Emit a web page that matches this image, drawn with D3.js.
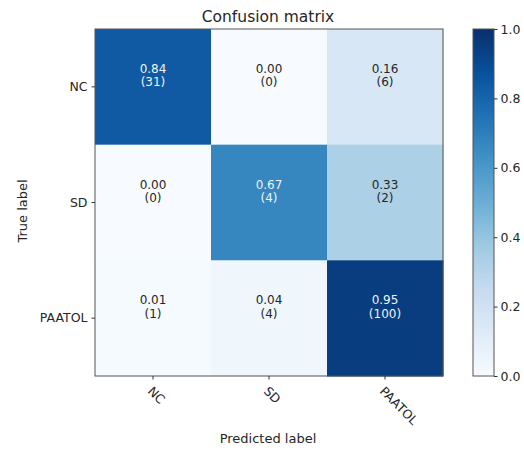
<!DOCTYPE html>
<html><head><meta charset="utf-8">
<script src="https://cdn.jsdelivr.net/npm/d3@7"></script>
<style>body{margin:0;background:#fff}svg{display:block}text{font-family:"DejaVu Sans",sans-serif;fill:#262626}</style>
</head><body>
<script>
const classes = ["NC", "SD", "PAATOL"];
const normValues = [
  [0.84, 0.00, 0.16],
  [0.00, 0.67, 0.33],
  [0.01, 0.04, 0.95]
];
const counts = [
  [31, 0, 6],
  [0, 4, 2],
  [1, 4, 100]
];
const colorbarTicks = [0.0, 0.2, 0.4, 0.6, 0.8, 1.0];
const title = "Confusion matrix";
const xTitle = "Predicted label";
const yTitle = "True label";

const W = 524, H = 450;
const plot = {left: 95, top: 29, right: 443, bottom: 376};
const svg = d3.select("body").append("svg").attr("width", W).attr("height", H);

const bluesStops = ["#f7fbff","#deebf7","#c6dbef","#9ecae1","#6baed6","#4292c6","#2171b5","#08519c","#08306b"];
const color = d3.scaleLinear()
  .domain(d3.range(9).map(i => i / 8))
  .range(bluesStops).interpolate(d3.interpolateRgb).clamp(true);

const x = d3.scaleBand().domain(classes).range([plot.left, plot.right]);
const y = d3.scaleBand().domain(classes).range([plot.top, plot.bottom]);

const cells = [];
classes.forEach((t, i) => classes.forEach((p, j) => cells.push({t, p, v: normValues[i][j], c: counts[i][j]})));

svg.append("g").selectAll("rect").data(cells).join("rect")
  .attr("x", d => x(d.p)).attr("y", d => y(d.t))
  .attr("width", x.bandwidth() + 0.5).attr("height", y.bandwidth() + 0.5)
  .attr("fill", d => color(d.v));

const thresh = d3.max(cells, d => d.v) / 2;
const lab = svg.append("g").selectAll("text").data(cells).join("text")
  .attr("text-anchor", "middle")
  .style("font-size", "12px")
  .style("fill", d => d.v > thresh ? "#eef3f8" : "#262626");
lab.append("tspan").attr("x", d => x(d.p) + x.bandwidth() / 2)
  .attr("y", d => y(d.t) + y.bandwidth() / 2 - 14).text(d => d.v.toFixed(2));
lab.append("tspan").attr("x", d => x(d.p) + x.bandwidth() / 2)
  .attr("y", d => y(d.t) + y.bandwidth() / 2 - 0.5).text(d => "(" + d.c + ")");

// frame
svg.append("rect").attr("x", plot.left).attr("y", plot.top)
  .attr("width", plot.right - plot.left).attr("height", plot.bottom - plot.top)
  .attr("fill", "none").attr("stroke", "#555").attr("stroke-width", 1);

// axes
const yAxis = d3.axisLeft(y).tickSize(3.5).tickPadding(4);
const gy = svg.append("g").attr("transform", `translate(${plot.left},0)`).call(yAxis);
gy.select(".domain").remove();
gy.selectAll("text").style("font-size", "12.5px").attr("fill", "#262626");
gy.selectAll("line").attr("stroke", "#333");

const xAxis = d3.axisBottom(x).tickSize(3.5).tickPadding(4);
const gx = svg.append("g").attr("transform", `translate(0,${plot.bottom})`).call(xAxis);
gx.select(".domain").remove();
gx.selectAll("line").attr("stroke", "#333");
gx.selectAll("text").style("font-size", "12.5px").attr("fill", "#262626")
  .attr("text-anchor", "start").attr("dy", null).attr("y", 0)
  .attr("transform", "translate(-6,16) rotate(45)");

svg.append("text").attr("x", (plot.left + plot.right) / 2 - 1).attr("y", 22)
  .attr("text-anchor", "middle").style("font-size", "15.5px").text(title);
svg.append("text").attr("x", (plot.left + plot.right) / 2 - 1).attr("y", 443)
  .attr("text-anchor", "middle").style("font-size", "13px").text(xTitle);
svg.append("text").attr("transform", "translate(27,211) rotate(-90)")
  .attr("text-anchor", "middle").style("font-size", "13px").text(yTitle);

// colorbar
const cb = {left: 473, right: 494, top: 29, bottom: 376};
const defs = svg.append("defs");
const grad = defs.append("linearGradient").attr("id", "cbgrad")
  .attr("x1", 0).attr("y1", 1).attr("x2", 0).attr("y2", 0);
bluesStops.forEach((c, i) => grad.append("stop").attr("offset", i / 8).attr("stop-color", c));
svg.append("rect").attr("x", cb.left).attr("y", cb.top)
  .attr("width", cb.right - cb.left).attr("height", cb.bottom - cb.top)
  .attr("fill", "url(#cbgrad)").attr("stroke", "#555");
const cy = d3.scaleLinear().domain([0, 1]).range([cb.bottom, cb.top]);
const gc = svg.append("g").attr("transform", `translate(${cb.right},0)`)
  .call(d3.axisRight(cy).tickValues(colorbarTicks).tickFormat(d3.format(".1f")).tickSize(3.5).tickPadding(3));
gc.select(".domain").remove();
gc.selectAll("line").attr("stroke", "#333");
gc.selectAll("text").style("font-size", "12.5px").attr("fill", "#262626");
</script>
</body></html>
